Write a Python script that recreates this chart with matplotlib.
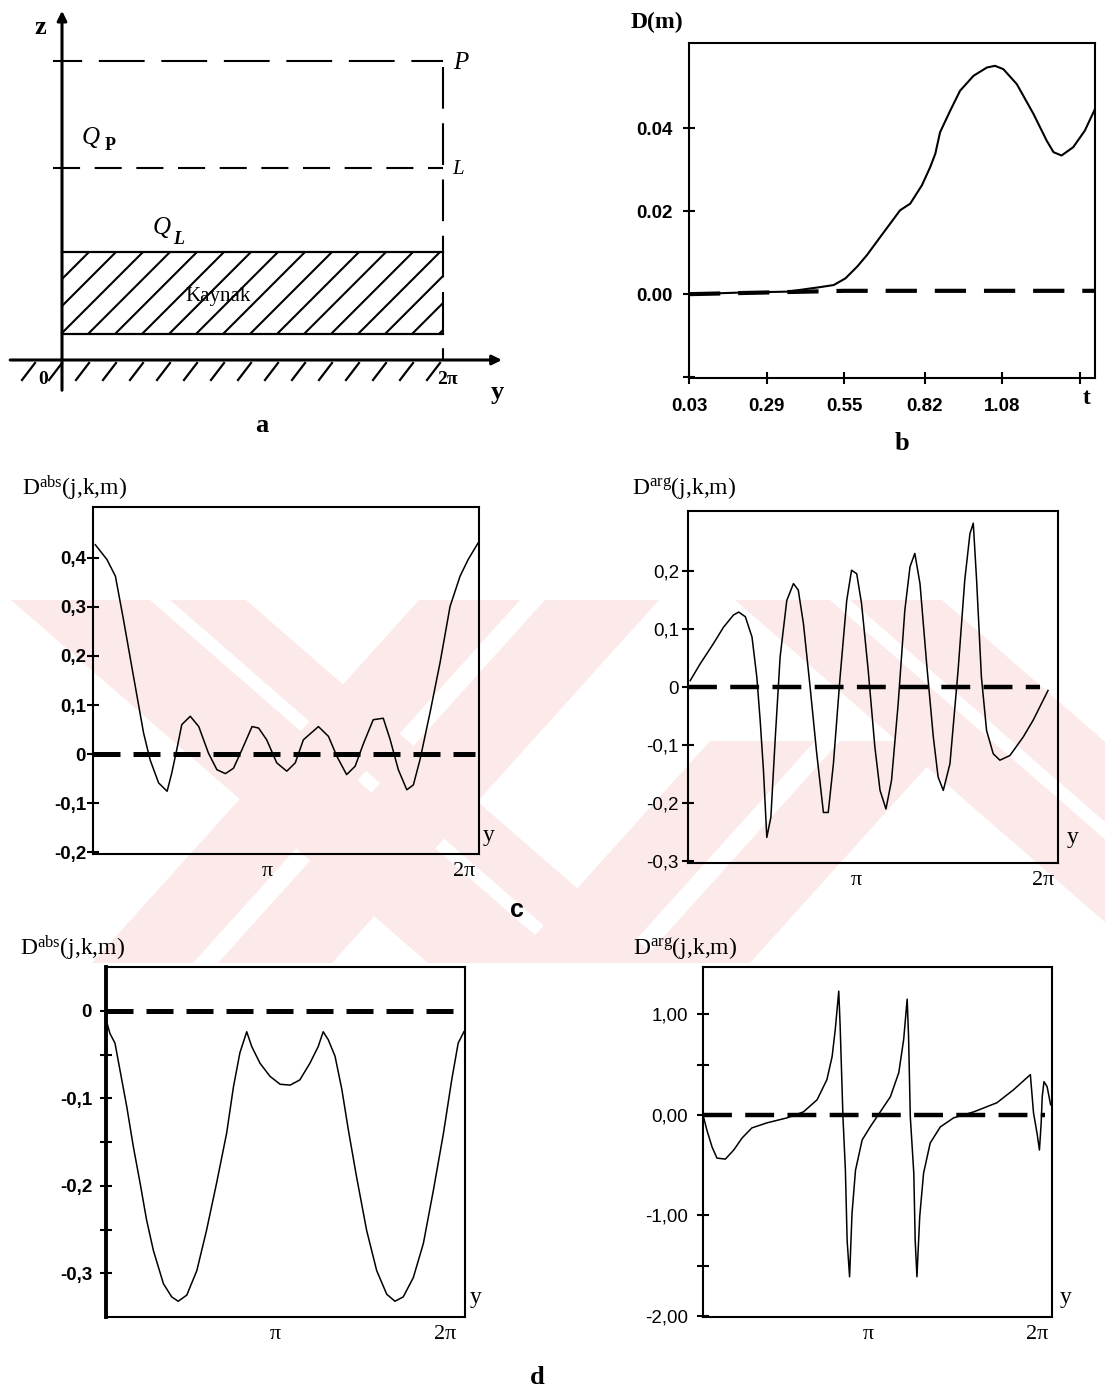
import numpy as np
import matplotlib
matplotlib.use('Agg')
import matplotlib.pyplot as plt
from matplotlib.patches import Polygon, Rectangle

W, H = 1105, 1389
plt.rcParams['font.family'] = ['Liberation Sans', 'DejaVu Sans']
plt.rcParams['mathtext.fontset'] = 'custom'
plt.rcParams['mathtext.rm'] = 'Liberation Serif'
plt.rcParams['mathtext.it'] = 'Liberation Serif:italic'
plt.rcParams['mathtext.bf'] = 'Liberation Serif:bold'

# ---------------- data ----------------
# panel b : D(m) versus t
t_b = [0.03, 0.214, 0.359, 0.47, 0.515, 0.554, 0.593, 0.626, 0.671, 0.704, 0.737,
       0.771, 0.81, 0.838, 0.855, 0.871, 0.905, 0.938, 0.983, 1.028, 1.055, 1.083,
       1.128, 1.184, 1.228, 1.251, 1.278, 1.317, 1.356, 1.39]
D_b = [0.0, 0.0004, 0.0006, 0.0017, 0.0022, 0.0038, 0.0066, 0.0094, 0.0138, 0.017,
       0.0202, 0.0218, 0.0262, 0.0306, 0.0338, 0.039, 0.0442, 0.049, 0.0526, 0.0546,
       0.055, 0.0542, 0.0506, 0.0434, 0.037, 0.0342, 0.0334, 0.0354, 0.0394, 0.0446]
t_b_ref = [0.03, 0.55, 1.39]
D_b_ref = [0.0, 0.0008, 0.0008]
b_xticks = [0.03, 0.29, 0.55, 0.82, 1.08, 1.34]
b_xticklabels = ['0.03', '0.29', '0.55', '0.82', '1.08', '']
b_yticks = [-0.02, 0.0, 0.02, 0.04]
b_yticklabels = ['', '0.00', '0.02', '0.04']

# panel c (left): D^abs ; y given as fraction of the plotted range
cabs_y = [0.006, 0.036, 0.058, 0.079, 0.105, 0.131, 0.148, 0.170, 0.192, 0.204, 0.217,
          0.230, 0.252, 0.274, 0.299, 0.321, 0.343, 0.364, 0.386, 0.412, 0.429, 0.450,
          0.476, 0.502, 0.524, 0.545, 0.584, 0.610, 0.632, 0.657, 0.679, 0.701, 0.726,
          0.752, 0.770, 0.791, 0.813, 0.830, 0.847, 0.873, 0.899, 0.925, 0.951, 0.972, 0.998]
cabs_v = [0.427, 0.397, 0.363, 0.274, 0.158, 0.043, -0.012, -0.059, -0.076, -0.039, 0.009,
          0.060, 0.077, 0.056, 0.002, -0.032, -0.040, -0.029, 0.009, 0.056, 0.053, 0.029,
          -0.018, -0.035, -0.018, 0.029, 0.056, 0.036, -0.005, -0.042, -0.025, 0.022, 0.070,
          0.073, 0.029, -0.032, -0.073, -0.063, -0.012, 0.084, 0.186, 0.301, 0.363, 0.397, 0.431]
cabs_zero_y = [0.0, 0.99]
cabs_yticks = [-0.2, -0.1, 0.0, 0.1, 0.2, 0.3, 0.4]
cabs_yticklabels = ['-0,2', '-0,1', '0', '0,1', '0,2', '0,3', '0,4']

# panel c (right): D^arg
carg_y = [0.006, 0.033, 0.069, 0.096, 0.123, 0.137, 0.155, 0.173, 0.186, 0.195, 0.204,
          0.213, 0.224, 0.236, 0.249, 0.267, 0.285, 0.298, 0.312, 0.330, 0.348, 0.366,
          0.379, 0.393, 0.411, 0.429, 0.442, 0.456, 0.469, 0.487, 0.505, 0.519, 0.535,
          0.550, 0.568, 0.586, 0.600, 0.613, 0.627, 0.645, 0.663, 0.676, 0.690, 0.708,
          0.730, 0.748, 0.762, 0.771, 0.780, 0.793, 0.807, 0.825, 0.843, 0.870, 0.906,
          0.933, 0.973]
carg_v = [0.011, 0.040, 0.075, 0.103, 0.124, 0.129, 0.121, 0.086, 0.017, -0.057, -0.144,
          -0.259, -0.224, -0.086, 0.052, 0.149, 0.178, 0.167, 0.109, 0.0, -0.115, -0.216,
          -0.216, -0.132, 0.017, 0.149, 0.201, 0.195, 0.144, 0.029, -0.103, -0.178, -0.210,
          -0.161, -0.029, 0.132, 0.207, 0.230, 0.178, 0.040, -0.086, -0.155, -0.178, -0.132,
          0.029, 0.184, 0.264, 0.282, 0.184, 0.017, -0.075, -0.115, -0.126, -0.118, -0.086,
          -0.057, -0.006]
carg_zero_y = [0.0, 0.95]
carg_yticks = [-0.3, -0.2, -0.1, 0.0, 0.1, 0.2]
carg_yticklabels = ['-0,3', '-0,2', '-0,1', '0', '0,1', '0,2']

# panel d (left): D^abs
dabs_y = [0.0, 0.011, 0.025, 0.039, 0.058, 0.076, 0.095, 0.113, 0.132, 0.160, 0.183,
          0.201, 0.225, 0.253, 0.280, 0.308, 0.336, 0.355, 0.373, 0.392, 0.406, 0.429,
          0.457, 0.485, 0.513, 0.540, 0.568, 0.591, 0.605, 0.619, 0.638, 0.657, 0.675,
          0.698, 0.726, 0.754, 0.782, 0.805, 0.828, 0.856, 0.884, 0.912, 0.940, 0.963,
          0.981, 0.997]
dabs_v = [-0.010, -0.026, -0.037, -0.068, -0.110, -0.155, -0.197, -0.239, -0.274, -0.312,
          -0.327, -0.332, -0.325, -0.297, -0.251, -0.197, -0.140, -0.087, -0.048, -0.024,
          -0.041, -0.060, -0.075, -0.084, -0.085, -0.079, -0.060, -0.041, -0.024, -0.033,
          -0.052, -0.090, -0.136, -0.190, -0.251, -0.297, -0.324, -0.332, -0.327, -0.305,
          -0.266, -0.205, -0.140, -0.079, -0.037, -0.024]
dabs_zero_y = [0.0, 0.981]
dabs_yticks = [-0.3, -0.2, -0.1, 0.0]
dabs_yticklabels = ['-0,3', '-0,2', '-0,1', '0']
dabs_yminor = [-0.25, -0.15, -0.05]

# panel d (right): D^arg
darg_y = [0.0, 0.011, 0.026, 0.040, 0.064, 0.088, 0.112, 0.140, 0.183, 0.241, 0.288,
          0.327, 0.355, 0.370, 0.379, 0.389, 0.393, 0.401, 0.408, 0.413, 0.420, 0.427,
          0.437, 0.456, 0.479, 0.508, 0.537, 0.561, 0.575, 0.585, 0.589, 0.594, 0.604,
          0.608, 0.613, 0.621, 0.632, 0.651, 0.680, 0.718, 0.776, 0.842, 0.890, 0.938,
          0.947, 0.957, 0.964, 0.969, 0.972, 0.977, 0.986, 0.996]
darg_v = [0.0, -0.15, -0.32, -0.43, -0.44, -0.35, -0.23, -0.13, -0.08, -0.03, 0.03,
          0.15, 0.35, 0.58, 0.85, 1.23, 0.88, -0.02, -0.55, -1.25, -1.61, -0.98,
          -0.55, -0.25, -0.12, 0.03, 0.18, 0.42, 0.75, 1.15, 0.78, -0.02, -0.58,
          -1.25, -1.61, -1.01, -0.58, -0.28, -0.12, -0.03, 0.03, 0.12, 0.25, 0.40,
          0.02, -0.18, -0.35, -0.08, 0.18, 0.33, 0.28, 0.10]
darg_zero_y = [0.0, 0.981]
darg_yticks = [-2.0, -1.0, 0.0, 1.0]
darg_yticklabels = ['-2,00', '-1,00', '0,00', '1,00']
darg_yminor = [-1.5, 0.5]

# x positions (fraction of range) where the pi tick / 2pi label sit
pi_pos = {'cabs': 0.451, 'carg': 0.456, 'dabs': 0.471, 'darg': 0.475}
twopi_pos = {'cabs': 0.961, 'carg': 0.96, 'dabs': 0.944, 'darg': 0.957}

TWO_PI = 2 * np.pi

fig = plt.figure(figsize=(W / 100, H / 100), dpi=100)
fig.patch.set_facecolor('white')


def place(x0, y0, x1, y1, **kw):
    return fig.add_axes([x0 / W, 1 - y1 / H, (x1 - x0) / W, (y1 - y0) / H], **kw)


def ftext(x, y, s, **kw):
    kw.setdefault('ha', 'center')
    kw.setdefault('va', 'center')
    fig.text(x / W, 1 - y / H, s, **kw)


SERIF = ['Liberation Serif', 'DejaVu Serif']

# ---------------- watermark (faint background decoration) ----------------
bg = fig.add_axes([0, 0, 1, 1], zorder=-10)
bg.set_xlim(0, W)
bg.set_ylim(H, 0)
bg.axis('off')
WM_COLOR = '#fce9e9'
wm_top, wm_bot = 600, 963
# each bar: (x-range at top edge, horizontal shift to the bottom edge)
wm_bars = [((11, 150), 417), ((170, 246), 417),
           ((419, 520), -327), ((545, 659), -327),
           ((735, 830), 417), ((850, 942), 417)]
for (xl, xr), shift in wm_bars:
    bg.add_patch(Polygon([(xl, wm_top), (xr, wm_top), (xr + shift, wm_bot), (xl + shift, wm_bot)],
                         closed=True, facecolor=WM_COLOR, edgecolor='none'))
for (xl, xr) in [(510, 615), (640, 750)]:
    bg.add_patch(Polygon([(xl, wm_bot), (xr, wm_bot), (xr + 200, wm_bot - 222), (xl + 200, wm_bot - 222)],
                         closed=True, facecolor=WM_COLOR, edgecolor='none'))

# ---------------- panel a : schematic ----------------
axA = place(0, 0, 520, 440)
axA.axis('off')
axA.set_facecolor('none')
px_y = 381 / TWO_PI      # pixels per unit of y
px_z = 100.0             # pixels per unit of z
axA.set_xlim(-62 / px_y, (520 - 62) / px_y)
axA.set_ylim((360 - 440) / px_z, 360 / px_z)
Y_END = TWO_PI
z_src_bot, z_src_top, z_L, z_P = 0.26, 1.08, 1.92, 2.99

axA.annotate('', xy=(0, 3.52), xytext=(0, -0.33),
             arrowprops=dict(arrowstyle='-|>', lw=2.2, color='k', mutation_scale=14))
axA.annotate('', xy=(7.3, 0), xytext=(-0.9, 0),
             arrowprops=dict(arrowstyle='-|>', lw=2.2, color='k', mutation_scale=14))
axA.plot([-0.15, Y_END], [z_P, z_P], color='k', lw=1.5, ls=(8, (22, 8)))
axA.plot([-0.15, Y_END], [z_L, z_L], color='k', lw=1.5, ls=(0, (13, 7)))
axA.plot([Y_END, Y_END], [z_P - 0.06, 0], color='k', lw=1.5, ls=(0, (20, 7)))
axA.plot([0, Y_END], [z_src_top, z_src_top], color='k', lw=1.6)
axA.plot([0, Y_END], [z_src_bot, z_src_bot], color='k', lw=1.6)
clip_rect = Rectangle((0, z_src_bot), Y_END, z_src_top - z_src_bot, transform=axA.transData,
                      facecolor='none', edgecolor='none')
axA.add_patch(clip_rect)
dz = z_src_top - z_src_bot
dy45 = dz * px_z / px_y
step = 27 / px_y
for y0 in np.arange(-dy45, Y_END + step, step):
    ln, = axA.plot([y0, y0 + dy45], [z_src_bot, z_src_top], color='k', lw=1.5)
    ln.set_clip_path(clip_rect)
# ground strokes
for y0 in np.arange(-40 / px_y, Y_END - 0.1, step):
    axA.plot([y0, y0 + 13 / px_y], [-0.2, -0.03], color='k', lw=1.6)

ftext(40, 28, 'z', family=SERIF, weight='bold', fontsize=19)
ftext(461, 63, 'P', family=SERIF, style='italic', fontsize=18)
ftext(458, 170, 'L', family=SERIF, style='italic', fontsize=15)
ftext(91, 138, 'Q', family=SERIF, style='italic', fontsize=18)
ftext(110, 146, 'P', family=SERIF, weight='bold', fontsize=13)
ftext(162, 228, 'Q', family=SERIF, style='italic', fontsize=18)
ftext(179, 239, 'L', family=SERIF, style='italic', weight='bold', fontsize=13)
ftext(218, 297, 'Kaynak', family=SERIF, fontsize=15)
ftext(43, 380, '0', family=SERIF, weight='bold', fontsize=14)
ftext(447, 380, '2\u03c0', family=SERIF, weight='bold', fontsize=14)
ftext(497, 393, 'y', family=SERIF, weight='bold', fontsize=19)
ftext(262, 425, 'a', family=SERIF, weight='bold', fontsize=19)


def style_axes(ax, lw=1.5):
    ax.set_facecolor('none')
    for s in ax.spines.values():
        s.set_linewidth(lw)
        s.set_color('black')


# ---------------- panel b ----------------
axB = place(689, 43, 1095, 378)
style_axes(axB)
axB.plot(t_b, D_b, color='k', lw=1.5)
axB.plot(t_b_ref, D_b_ref, color='k', lw=3.0, ls=(0, (7.5, 4.3)))
axB.set_xlim(0.03, 1.39)
axB.set_ylim(-0.0202, 0.0605)
axB.set_xticks(b_xticks, b_xticklabels)
axB.set_yticks(b_yticks, b_yticklabels)
axB.tick_params(axis='both', direction='inout', length=9, width=1.5, labelsize=13.5)
axB.tick_params(axis='y', pad=7)
axB.tick_params(axis='x', pad=10)
for lab in axB.get_xticklabels() + axB.get_yticklabels():
    lab.set_fontweight('bold')
ftext(657, 22, 'D(m)', family=SERIF, weight='bold', fontsize=17)
ftext(1087, 398, 't', family=SERIF, weight='bold', fontsize=17)
ftext(902, 443, 'b', family=SERIF, weight='bold', fontsize=19)


def curve_panel(box, ys, vs, zero_y, ylim, yticks, ylabels, key, lw_zero, dash,
                label_weight, pad, yminor=None, left_lw=1.5, ticklen=8):
    ax = place(*box)
    style_axes(ax)
    ax.spines['left'].set_linewidth(left_lw)
    ax.plot(np.array(ys) * TWO_PI, vs, color='k', lw=1.1)
    ax.plot(np.array(zero_y) * TWO_PI, [0, 0], color='k', lw=lw_zero, ls=(0, dash))
    ax.set_xlim(0, TWO_PI)
    ax.set_ylim(*ylim)
    ax.set_yticks(yticks, ylabels)
    if yminor is not None:
        ax.set_yticks(yminor, minor=True)
    ax.tick_params(axis='y', which='both', direction='inout', length=ticklen, width=1.5,
                   labelsize=13.5, pad=pad)
    for lab in ax.get_yticklabels():
        lab.set_fontweight(label_weight)
    ax.set_xticks([pi_pos[key] * TWO_PI, twopi_pos[key] * TWO_PI], ['\u03c0', '2\u03c0'])
    ax.tick_params(axis='x', which='major', length=0, pad=6)
    for lab in ax.get_xticklabels():
        lab.set_fontfamily(SERIF)
        lab.set_fontsize(16)
    ax.set_xticks([pi_pos[key] * TWO_PI], minor=True)
    ax.tick_params(axis='x', which='minor', direction='in', length=6, width=2.2)
    return ax


label_abs = r'D$^{\mathrm{abs}}$(j,k,m)'
label_arg = r'D$^{\mathrm{arg}}$(j,k,m)'

# ---------------- panel c ----------------
curve_panel((93, 507, 479, 854), cabs_y, cabs_v, cabs_zero_y, (-0.204, 0.504),
            cabs_yticks, cabs_yticklabels, 'cabs', 3.6, (5.4, 2.6), 'bold', 1.0)
ftext(75, 488, label_abs, family=SERIF, fontsize=17)
ftext(489, 836, 'y', family=SERIF, fontsize=17)

curve_panel((688, 511, 1058, 863), carg_y, carg_v, carg_zero_y, (-0.303, 0.303),
            carg_yticks, carg_yticklabels, 'carg', 3.2, (6.5, 3.0), 'normal', 2.5)
ftext(684, 488, label_arg, family=SERIF, fontsize=17)
ftext(1073, 837, 'y', family=SERIF, fontsize=17)
ftext(517, 910, 'c', weight='bold', fontsize=18)

# ---------------- panel d ----------------
curve_panel((106, 967, 465, 1317), dabs_y, dabs_v, dabs_zero_y, (-0.350, 0.050),
            dabs_yticks, dabs_yticklabels, 'dabs', 3.6, (5.4, 2.6), 'bold', 6,
            yminor=dabs_yminor, left_lw=2.8)
ftext(73, 948, label_abs, family=SERIF, fontsize=17)
ftext(476, 1298, 'y', family=SERIF, fontsize=17)

curve_panel((703, 967, 1052, 1317), darg_y, darg_v, darg_zero_y, (-2.01, 1.47),
            darg_yticks, darg_yticklabels, 'darg', 3.2, (6.5, 3.0), 'normal', 7,
            yminor=darg_yminor)
ftext(685, 948, label_arg, family=SERIF, fontsize=17)
ftext(1066, 1297, 'y', family=SERIF, fontsize=17)
ftext(537, 1378, 'd', family=SERIF, weight='bold', fontsize=19)

fig.savefig('out.png', dpi=100, facecolor='white')
